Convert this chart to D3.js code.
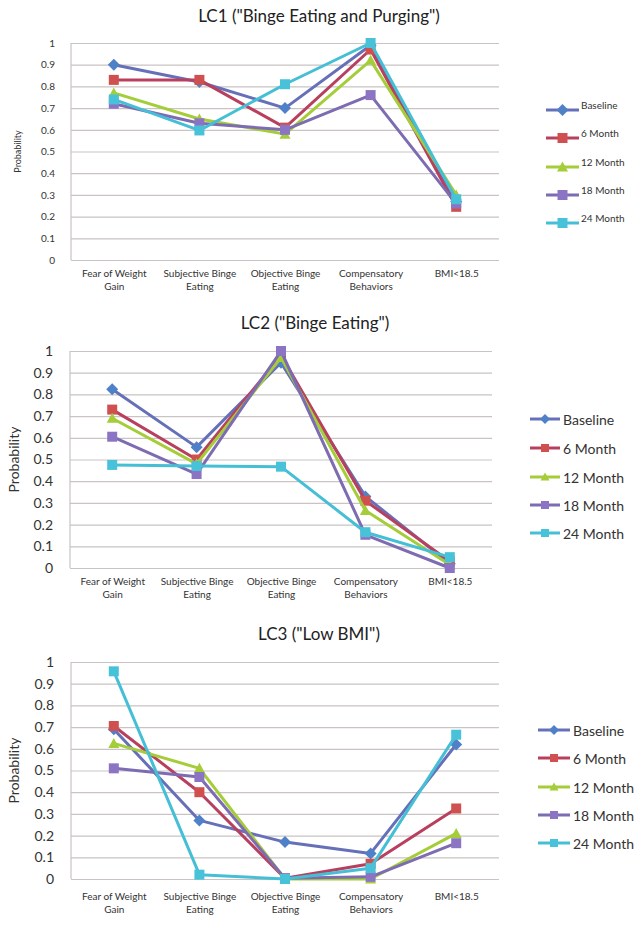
<!DOCTYPE html>
<html><head><meta charset="utf-8">
<script src="https://cdn.jsdelivr.net/npm/d3@7/dist/d3.min.js"></script>
<style>
html,body{margin:0;padding:0;background:#fff;}
svg{display:block;font-family:Lato,"Open Sans",sans-serif;}
</style></head>
<body><svg id="c" width="641" height="925"></svg>
<script>
const categories = ["Fear of Weight Gain","Subjective Binge Eating","Objective Binge Eating","Compensatory Behaviors","BMI<18.5"];
const seriesNames = ["Baseline","6 Month","12 Month","18 Month","24 Month"];
const yTicks = [0,0.1,0.2,0.3,0.4,0.5,0.6,0.7,0.8,0.9,1];
const chartTitles = ['LC1 ("Binge Eating and Purging")','LC2 ("Binge Eating")','LC3 ("Low BMI")'];

// values per series, in category order
const lc1Values = [
  [0.90, 0.82, 0.70, 0.99, 0.27],
  [0.83, 0.83, 0.61, 0.97, 0.245],
  [0.77, 0.65, 0.58, 0.92, 0.30],
  [0.72, 0.63, 0.60, 0.76, 0.26],
  [0.74, 0.597, 0.81, 1.00, 0.28]
];
const lc2Values = [
  [0.824, 0.557, 0.946, 0.33, 0.02],
  [0.73, 0.50, 0.98, 0.31, 0.03],
  [0.69, 0.48, 0.97, 0.265, 0.015],
  [0.605, 0.433, 1.00, 0.153, 0.0],
  [0.475, 0.47, 0.467, 0.165, 0.05]
];
const lc3Values = [
  [0.69, 0.27, 0.17, 0.118, 0.62],
  [0.705, 0.40, 0.003, 0.07, 0.325],
  [0.625, 0.51, 0.0, 0.0, 0.21],
  [0.51, 0.47, 0.003, 0.01, 0.165],
  [0.957, 0.02, 0.0, 0.05, 0.665]
];

const lineColors = ["#6670B8","#B8405E","#A5CD39","#7D6CB2","#45BFD5"];
const markerColors = ["#4F81C8","#D0504F","#A5CD39","#8B74C4","#48C2D8"];
const markerShapes = ["diamond","square","triangle","square","square"];

const svg = d3.select("#c");

function wrapLabel(s){
  if (s.length <= 10) return [s];
  const i = s.lastIndexOf(" ");
  return [s.slice(0,i), s.slice(i+1)];
}

function markerPath(shape, size){
  const h = size/2;
  if (shape === "diamond") return `M0,${-h-1}L${h+1},0L0,${h+1}L${-h-1},0Z`;
  if (shape === "triangle") return `M0,${-h-0.5}L${h+0.5},${h-0.5}L${-h-0.5},${h-0.5}Z`;
  return `M${-h},${-h}H${h}V${h}H${-h}Z`;
}

function drawChart(values, L){
  const g = svg.append("g");
  const x = d3.scalePoint().domain(categories).range([L.x0, L.x1]).padding(0.5);
  const y = d3.scaleLinear().domain([0,1]).range([L.yBot, L.yTop]);

  // title
  g.append("text").attr("x", L.titleX).attr("y", L.titleY).attr("text-anchor","middle")
    .attr("font-size", L.titleFont).attr("fill","#222").text(L.title);

  // gridlines
  const grid = g.append("g").attr("transform",`translate(${L.x0},0)`)
    .call(d3.axisLeft(y).tickValues(yTicks).tickSize(-(L.x1-L.x0)).tickFormat(""));
  grid.select(".domain").remove();
  grid.selectAll("line").attr("stroke","#C9C3C3").attr("stroke-width",1.2);
  // left axis line
  g.append("line").attr("x1",L.x0).attr("x2",L.x0).attr("y1",L.yTop).attr("y2",L.yBot)
    .attr("stroke","#C9C3C3").attr("stroke-width",1.2);

  // tick labels
  const yAx = g.append("g").attr("transform",`translate(${L.tickRight},0)`)
    .call(d3.axisLeft(y).tickValues(yTicks).tickSize(0).tickPadding(0).tickFormat(d3.format("")));
  yAx.attr("font-family","Lato, sans-serif");
  yAx.select(".domain").remove();
  yAx.selectAll("text").attr("font-size", L.tickFont).attr("fill","#333");

  // y title
  g.append("text").attr("transform",`translate(${L.probX},${(L.yTop+L.yBot)/2}) rotate(-90)`)
    .attr("text-anchor","middle").attr("dy","0.35em").attr("font-size", L.probFont).attr("fill","#333")
    .text("Probability");

  // category labels
  const xAx = g.append("g").attr("transform",`translate(0,${L.catY})`)
    .call(d3.axisBottom(x).tickSize(0).tickFormat(""));
  xAx.attr("font-family","Lato, sans-serif");
  xAx.select(".domain").remove();
  xAx.selectAll(".tick").each(function(d){
    const t = d3.select(this).append("text").attr("text-anchor","middle")
      .attr("font-size", L.catFont).attr("fill","#333");
    wrapLabel(d).forEach((line,i)=>{
      t.append("tspan").attr("x",0).attr("y", i*L.catLH).text(line);
    });
  });

  // lines + markers
  const line = d3.line().x((d,i)=>x(categories[i])).y(d=>y(d));
  values.forEach((vals, si)=>{
    g.append("path").datum(vals).attr("d", line).attr("fill","none")
      .attr("stroke", lineColors[si]).attr("stroke-width", L.lineW).attr("stroke-linejoin","round");
    g.selectAll(null).data(vals).enter().append("path")
      .attr("transform",(d,i)=>`translate(${x(categories[i])},${y(d)})`)
      .attr("d", markerPath(markerShapes[si], L.markerSize))
      .attr("fill", markerColors[si]);
  });

  // legend
  seriesNames.forEach((name, si)=>{
    const ly = L.legY[si];
    g.append("line").attr("x1",L.legX0).attr("x2",L.legX1).attr("y1",ly).attr("y2",ly)
      .attr("stroke", lineColors[si]).attr("stroke-width", L.lineW);
    g.append("path").attr("transform",`translate(${(L.legX0+L.legX1)/2},${ly})`)
      .attr("d", markerPath(markerShapes[si], L.legMarker)).attr("fill", markerColors[si]);
    g.append("text").attr("x", L.legTextX).attr("y", ly + L.legDy).attr("dy","0.35em")
      .attr("font-size", L.legFont).attr("fill","#333").text(name);
  });
}

drawChart(lc1Values, {
  title: chartTitles[0], titleX: 319, titleY: 22, titleFont: 17,
  x0: 71, x1: 499, yTop: 43, yBot: 260,
  tickRight: 55, tickFont: 10, probX: 18, probFont: 9,
  catY: 277, catLH: 13, catFont: 10,
  lineW: 3, markerSize: 10,
  legX0: 546, legX1: 579, legTextX: 581, legY: [110,138,167,195,223], legDy: -5, legFont: 10, legMarker: 10
});
drawChart(lc2Values, {
  title: chartTitles[1], titleX: 315, titleY: 329, titleFont: 17,
  x0: 70, x1: 492, yTop: 351, yBot: 568,
  tickRight: 53, tickFont: 14, probX: 14, probFont: 14,
  catY: 585, catLH: 13, catFont: 10,
  lineW: 3, markerSize: 10,
  legX0: 530, legX1: 560, legTextX: 563, legY: [419,448,477,505,533], legDy: 1, legFont: 14, legMarker: 8
});
drawChart(lc3Values, {
  title: chartTitles[2], titleX: 319, titleY: 640, titleFont: 17,
  x0: 71, x1: 499, yTop: 662, yBot: 879,
  tickRight: 54, tickFont: 14, probX: 14, probFont: 14,
  catY: 900, catLH: 13, catFont: 10,
  lineW: 3, markerSize: 10,
  legX0: 538, legX1: 570, legTextX: 573, legY: [730,758,787,815,843], legDy: 1, legFont: 14, legMarker: 8
});
</script></body></html>
